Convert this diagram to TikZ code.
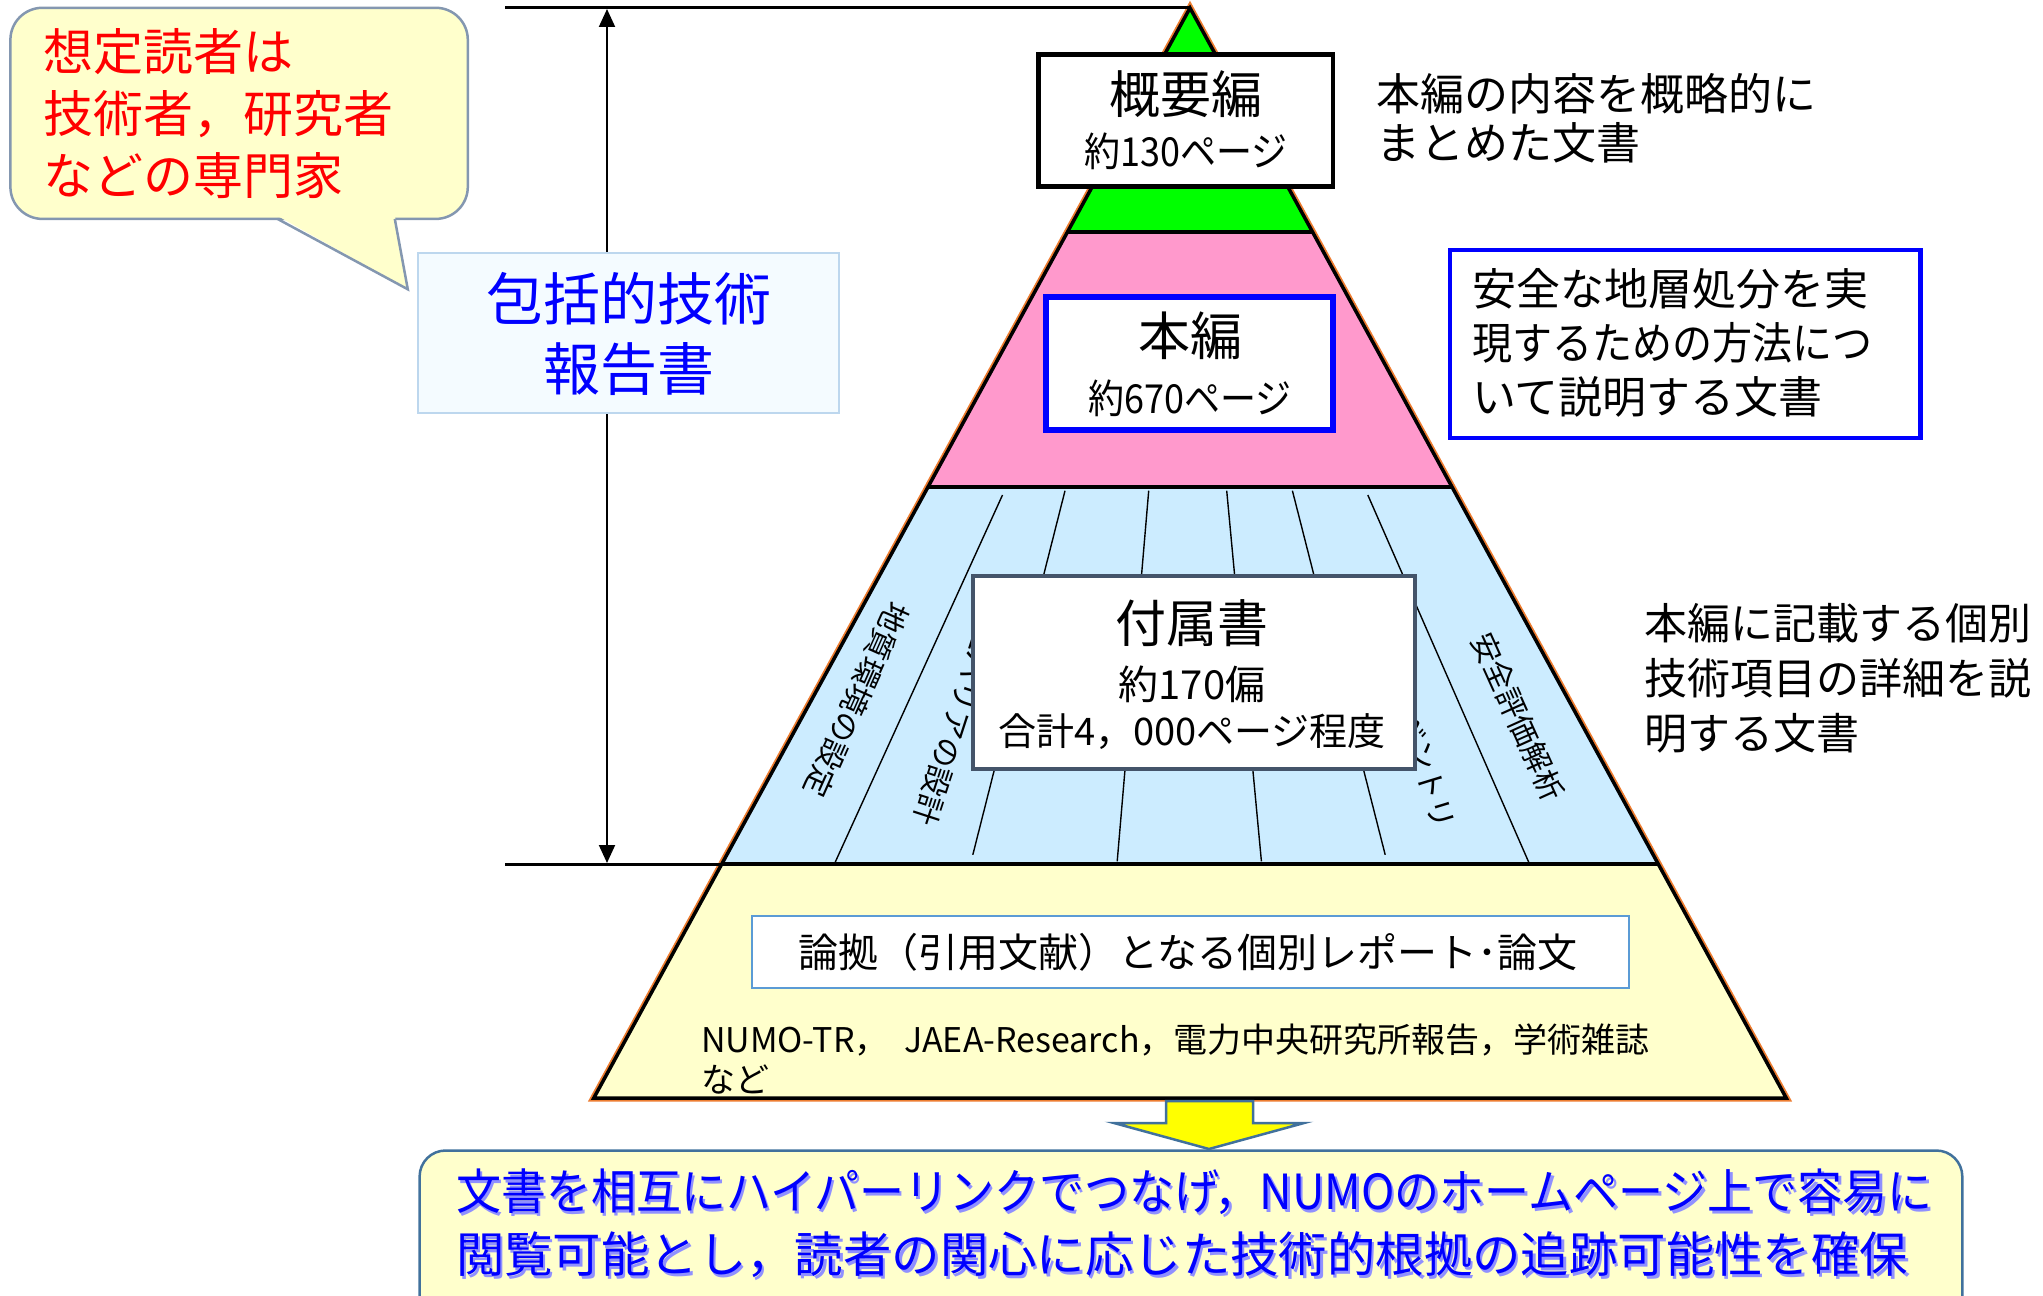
\documentclass[tikz,border=0pt]{standalone}
\usepackage{fontspec}
\setmainfont{Noto Sans CJK JP}
\usetikzlibrary{arrows.meta}
\definecolor{lgreen}{HTML}{00FF00}
\definecolor{lpink}{HTML}{FF99CC}
\definecolor{lblue}{HTML}{CCECFF}
\definecolor{lyellow}{HTML}{FFFFCC}
\definecolor{edgeorange}{HTML}{ED7D31}
\definecolor{calloutline}{HTML}{8497B0}
\definecolor{pbfill}{HTML}{F4FBFF}
\definecolor{pbline}{HTML}{BDD7EE}
\definecolor{slate}{HTML}{44546A}
\definecolor{citeline}{HTML}{5B9BD5}
\definecolor{arrowline}{HTML}{41719C}
\definecolor{pureblue}{HTML}{0000FF}
\definecolor{purered}{HTML}{FF0000}
\definecolor{shadowblue}{HTML}{9090FF}
\definecolor{arrowyellow}{HTML}{FFFF00}
\begin{document}
\begin{tikzpicture}[x=0.5pt,y=-0.5pt,
  txt/.style={inner sep=0pt, outer sep=0pt},
  sepline/.style={line width=2.2pt, black},
  stripline/.style={line width=0.7pt, black},
  striptext/.style={txt, font=\fontsize{15pt}{15pt}\selectfont},
  blackbox/.style={draw=black, line width=2.25pt, fill=white},
  bluebox/.style={draw=pureblue, line width=3.25pt, fill=white},
  slatebox/.style={draw=slate, line width=2.25pt, fill=white},
  citebox/.style={draw=citeline, line width=1pt, fill=white},
  rbluebox/.style={draw=pureblue, line width=2.25pt, fill=white},
  pbbox/.style={draw=pbline, line width=1.25pt, fill=pbfill},
  guide/.style={line width=1.5pt, black},
  dimarrow/.style={line width=1pt, black, {Triangle[width=8pt,length=9pt]}-{Triangle[width=8pt,length=9pt]}},
  bigtitle/.style={txt, font=\fontsize{25.5pt}{25.5pt}\selectfont},
  subtitle/.style={txt, font=\fontsize{20pt}{20pt}\selectfont},
  pagetext/.style={txt, font=\fontsize{20pt}{20pt}\selectfont, xscale=0.9, transform shape},
  desctext/.style={txt, anchor=west, font=\fontsize{22pt}{22pt}\selectfont},
  bottomtext/.style={txt, anchor=west, font=\fontsize{24.2pt}{24.2pt}\selectfont},
]
\useasboundingbox (0,0) rectangle (2043,1295);

% pyramid coordinates
\coordinate (apex) at (1190,8);
\coordinate (gL) at (1067.5,232);
\coordinate (gR) at (1312.5,232);
\coordinate (pL) at (928,487);
\coordinate (pR) at (1452,487);
\coordinate (bL) at (721.8,864);
\coordinate (bR) at (1658.2,864);
\coordinate (yL) at (593.8,1098);
\coordinate (yR) at (1786.2,1098);

% orange outer edge
\draw[edgeorange, line width=3.5pt, line join=miter] (apex) -- (yR) -- (yL) -- cycle;

% layers
\fill[lgreen] (apex) -- (gR) -- (gL) -- cycle;
\fill[lpink] (gL) -- (gR) -- (pR) -- (pL) -- cycle;
\fill[lblue] (pL) -- (pR) -- (bR) -- (bL) -- cycle;
\fill[lyellow] (bL) -- (bR) -- (yR) -- (yL) -- cycle;

% strip lines in appendix layer
\coordinate (s1a) at (1002.5,495); \coordinate (s1b) at (835,862.6);
\coordinate (s2a) at (1065,490.7); \coordinate (s2b) at (972.8,854.8);
\coordinate (s3a) at (1148.7,490.7); \coordinate (s3b) at (1117.2,861.3);
\coordinate (s4a) at (1226.7,490.7); \coordinate (s4b) at (1261.4,861.3);
\coordinate (s5a) at (1292.4,490.7); \coordinate (s5b) at (1385.2,854.8);
\coordinate (s6a) at (1367.8,495); \coordinate (s6b) at (1528.9,862.6);
\draw[stripline] (s1a) -- (s1b);
\draw[stripline] (s2a) -- (s2b);
\draw[stripline] (s3a) -- (s3b);
\draw[stripline] (s4a) -- (s4b);
\draw[stripline] (s5a) -- (s5b);
\draw[stripline] (s6a) -- (s6b);

% strip texts
\node[striptext, rotate=-114] (st1) at (856.7,700) {地質環境の設定};
\node[striptext, rotate=-108, anchor=east] (st2) at (923.7,824.3) {人工バリアの設計};
\node[striptext, rotate=-73, anchor=east] (st3) at (1444.4,827.6) {インベントリ};
\node[striptext, rotate=-65.7] (st4) at (1518.3,716.7) {安全評価解析};

% layer separators and outline
\draw[sepline] (gL) -- (gR);
\draw[sepline] (pL) -- (pR);
\draw[sepline] (bL) -- (bR);
\draw[black, line width=1.75pt, line join=miter] (apex) -- (yR) -- (yL) -- cycle;

% guide lines and dimension arrow
\coordinate (topstart) at (505,8);
\coordinate (botstart) at (505,864);
\draw[guide] (topstart) -- (apex);
\draw[guide] (botstart) -- (bL);
\coordinate (arrTop) at (607,9);
\coordinate (arrBot) at (607,863);
\draw[dimarrow] (arrTop) -- (arrBot);

% boxes
\node[blackbox, minimum width=147.25pt, minimum height=65.8pt] (gaiyo) at (1185.75,120.5) {};
\node[bigtitle] (gaiyoT) at (1186,94) {概要編};
\node[pagetext] (gaiyoP) at (1186,151) {約130ページ};

\node[bluebox, minimum width=143.5pt, minimum height=66.5pt] (honpen) at (1189.5,363.5) {};
\node[txt, font=\fontsize{26pt}{26pt}\selectfont] (honpenT) at (1190,336) {本編};
\node[pagetext] (honpenP) at (1190,398.7) {約670ページ};

\node[slatebox, minimum width=221pt, minimum height=96.4pt] (fuzoku) at (1194,672.4) {};
\node[bigtitle] (fuzokuT) at (1192,623) {付属書};
\node[subtitle] (fuzokuN) at (1192,684) {約170偏};
\node[txt, font=\fontsize{19pt}{19pt}\selectfont] (fuzokuP) at (1192,732) {合計4，000ページ程度};

\node[citebox, minimum width=438.5pt, minimum height=35.85pt] (ronkyo) at (1190.5,951.9) {};
\node[txt, font=\fontsize{20pt}{20pt}\selectfont] (ronkyoT) at (1188,952.5) {論拠（引用文献）となる個別レポート･論文};

\node[txt, anchor=west, align=left, font=\fontsize{17pt}{20.25pt}\selectfont] (refs) at (701,1058.75) {NUMO-TR，\ \ JAEA-Research，電力中央研究所報告，学術雑誌\\など};

% right descriptions
\node[txt, anchor=west, align=left, font=\fontsize{22pt}{24.75pt}\selectfont] (desc1) at (1376,118.5) {本編の内容を概略的に\\まとめた文書};
\node[rbluebox, minimum width=235.3pt, minimum height=93.9pt] (descbox) at (1685.3,343.9) {};
\node[desctext] (desc2a) at (1472,289) {安全な地層処分を実};
\node[desctext, xscale=0.91, transform shape] (desc2b) at (1472,343) {現するための方法につ};
\node[desctext] (desc2c) at (1472,397) {いて説明する文書};
\node[txt, anchor=west, align=left, font=\fontsize{21.5pt}{27.5pt}\selectfont] (desc3) at (1644,678.4) {本編に記載する個別\\技術項目の詳細を説\\明する文書};

% comprehensive report box
\node[pbbox, minimum width=210.5pt, minimum height=80.1pt] (pbox) at (628.5,332.9) {};
\node[txt, align=center, text=pureblue, font=\fontsize{28.5pt}{35pt}\selectfont] (pboxT) at (629,333.5) {包括的技術\\報告書};

% callout
\draw[draw=calloutline, line width=1.25pt, fill=lyellow, rounded corners=16pt] (10.4,7.8) rectangle (467.8,218.9);
\fill[lyellow] (276,215) -- (407.8,289.3) -- (394.8,215) -- cycle;
\draw[draw=calloutline, line width=1.25pt, line join=miter] (277.5,218.9) -- (407.8,289.3) -- (394.8,218.9);
\node[txt, anchor=west, align=left, text=purered, font=\fontsize{25pt}{31pt}\selectfont] (reader) at (43,114) {想定読者は\\技術者，研究者\\などの専門家};

% down block arrow
\draw[fill=arrowyellow, draw=arrowline, line width=1.25pt, line join=miter]
  (1166,1101) -- (1253,1101) -- (1253,1123) -- (1304,1123) -- (1209,1149) -- (1114,1123) -- (1166,1123) -- cycle;

% bottom box
\draw[draw=arrowline, line width=1.25pt, fill=lyellow, rounded corners=13pt] (419.6,1150.5) rectangle (1962.3,1360);
\node[bottomtext, text=shadowblue, xscale=0.93, transform shape] (b1s) at (458.5,1194.5) {文書を相互にハイパーリンクでつなげ，NUMOのホームページ上で容易に};
\node[bottomtext, text=pureblue, xscale=0.93, transform shape] (b1) at (456,1192) {文書を相互にハイパーリンクでつなげ，NUMOのホームページ上で容易に};
\node[bottomtext, text=shadowblue] (b2s) at (458.5,1257.5) {閲覧可能とし，読者の関心に応じた技術的根拠の追跡可能性を確保};
\node[bottomtext, text=pureblue] (b2) at (456,1255) {閲覧可能とし，読者の関心に応じた技術的根拠の追跡可能性を確保};
\end{tikzpicture}
\end{document}
